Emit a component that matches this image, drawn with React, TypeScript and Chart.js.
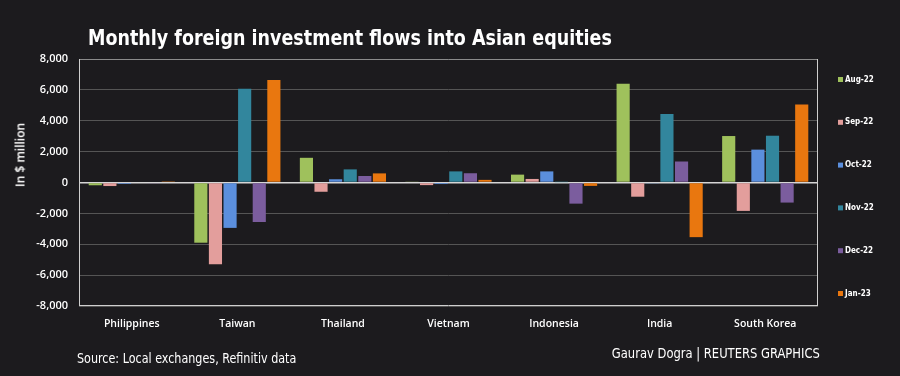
import React, { useEffect, useRef } from "react";
import { Chart, registerables } from "chart.js";

Chart.register(...registerables);

const categories = ["Philippines", "Taiwan", "Thailand", "Vietnam", "Indonesia", "India", "South Korea"];
const seriesLabels = ["Aug-22", "Sep-22", "Oct-22", "Nov-22", "Dec-22", "Jan-23"];
const seriesColors = ["#9fc15c", "#e39e9c", "#5b8fdd", "#32869d", "#7b5d9e", "#e9770f"];
const aug22 = [-180, -3900, 1600, 60, 510, 6400, 3010];
const sep22 = [-230, -5300, -600, -170, 230, -920, -1840];
const oct22 = [-90, -2940, 210, -100, 720, -60, 2130];
const nov22 = [50, 6070, 850, 720, 20, 4440, 3030];
const dec22 = [-40, -2560, 420, 600, -1370, 1360, -1300];
const jan23 = [70, 6640, 590, 170, -220, -3540, 5060];
const yMin = -8000;
const yMax = 8000;
const yStep = 2000;

const titleText = "Monthly foreign investment flows into Asian equities";
const yAxisTitle = "In $ million";
const sourceText = "Source: Local exchanges, Refinitiv data";
const creditText = "Gaurav Dogra | REUTERS GRAPHICS";

const BG = "#1c1b1e";
const NARROW = '"Liberation Sans Narrow", "DejaVu Sans Condensed", "Arial Narrow", sans-serif';
const TICKFONT = '"Open Sans", "Noto Sans", sans-serif';

const framePlugin = {
  id: "frame",
  afterDatasetsDraw(chart: any) {
    const { ctx, chartArea } = chart;
    const { left, right, top, bottom } = chartArea;
    ctx.save();
    ctx.lineWidth = 1;
    ctx.strokeStyle = "#8a8a8a";
    ctx.beginPath();
    ctx.moveTo(left, top + 0.5);
    ctx.lineTo(right, top + 0.5);
    ctx.stroke();
    ctx.strokeStyle = "#cfcfcf";
    ctx.beginPath();
    ctx.moveTo(left + 0.5, top);
    ctx.lineTo(left + 0.5, bottom);
    ctx.moveTo(left, bottom - 0.5);
    ctx.lineTo(right, bottom - 0.5);
    ctx.moveTo(right - 0.5, top);
    ctx.lineTo(right - 0.5, bottom);
    ctx.stroke();
    ctx.restore();
  },
};

const sideLegendPlugin = {
  id: "sideLegend",
  afterDraw(chart: any) {
    const { ctx, chartArea } = chart;
    const x = chartArea.right + 20;
    const y0 = 79.5;
    const step = 42.8;
    ctx.save();
    ctx.font = `bold 8px ${NARROW}`;
    ctx.textBaseline = "middle";
    ctx.textAlign = "left";
    chart.data.datasets.forEach((ds: any, i: number) => {
      const y = y0 + i * step;
      ctx.fillStyle = ds.backgroundColor;
      ctx.fillRect(x, y - 2.5, 5, 5);
      ctx.fillStyle = "#ffffff";
      ctx.fillText(ds.label, x + 7, y);
    });
    ctx.restore();
  },
};

function ChartCanvas() {
  const ref = useRef<HTMLCanvasElement | null>(null);
  useEffect(() => {
    if (!ref.current) return;
    const values = [aug22, sep22, oct22, nov22, dec22, jan23];
    const chart = new Chart(ref.current, {
      type: "bar",
      data: {
        labels: categories,
        datasets: seriesLabels.map((label, i) => ({
          label,
          data: values[i],
          backgroundColor: seriesColors[i],
          borderWidth: 0,
          categoryPercentage: 0.83,
          barPercentage: 0.9,
        })),
      },
      options: {
        responsive: false,
        animation: false,
        devicePixelRatio: 1,
        layout: { padding: { top: 59, left: 0, right: 82, bottom: 40 } },
        plugins: {
          legend: { display: false },
          tooltip: { enabled: false },
          title: { display: false },
        },
        scales: {
          x: {
            grid: { display: false, drawTicks: false },
            border: { display: false },
            ticks: {
              color: "#ffffff",
              padding: 12,
              font: { family: TICKFONT, size: 10.5, weight: "600" },
              maxRotation: 0,
            },
            afterFit: (s: any) => {
              s.height = 30;
            },
          },
          y: {
            min: yMin,
            max: yMax,
            grid: {
              drawTicks: false,
              color: (c: any) => (c.tick && c.tick.value === 0 ? "#d6d6d6" : "#555555"),
              lineWidth: (c: any) => (c.tick && c.tick.value === 0 ? 1.5 : 1),
            },
            border: { display: false },
            ticks: {
              stepSize: yStep,
              color: "#ffffff",
              padding: 11,
              font: { family: TICKFONT, size: 11, weight: "600" },
              callback: (v: any) => Number(v).toLocaleString("en-US"),
            },
            afterFit: (s: any) => {
              s.width = 79;
            },
          },
        },
      },
      plugins: [framePlugin, sideLegendPlugin],
    });
    return () => chart.destroy();
  }, []);
  return (
    <canvas
      ref={ref}
      width={900}
      height={376}
      style={{ position: "absolute", left: 0, top: 0, width: 900, height: 376 }}
    />
  );
}

export default function App() {
  return (
    <div
      style={{
        position: "fixed",
        left: 0,
        top: 0,
        width: 900,
        height: 376,
        background: BG,
        overflow: "hidden",
        color: "#ffffff",
      }}
    >
      <ChartCanvas />
      <div
        style={{
          position: "absolute",
          left: 88,
          top: 25,
          fontFamily: NARROW,
          fontWeight: "bold",
          fontSize: 22,
          lineHeight: "26px",
          whiteSpace: "nowrap",
          transform: "scaleX(0.885)",
          transformOrigin: "left center",
        }}
      >
        {titleText}
      </div>
      <div
        style={{
          position: "absolute",
          left: 20,
          top: 155,
          transform: "translate(-50%, -50%) rotate(-90deg)",
          fontFamily: TICKFONT,
          fontWeight: 600,
          fontSize: 12,
          whiteSpace: "nowrap",
        }}
      >
        {yAxisTitle}
      </div>
      <div
        style={{
          position: "absolute",
          left: 77,
          top: 349,
          fontFamily: NARROW,
          fontSize: 14,
          lineHeight: "18px",
          whiteSpace: "nowrap",
          transform: "scaleX(0.887)",
          transformOrigin: "left center",
        }}
      >
        {sourceText}
      </div>
      <div
        style={{
          position: "absolute",
          right: 80,
          top: 344,
          fontFamily: NARROW,
          fontSize: 14,
          lineHeight: "18px",
          whiteSpace: "nowrap",
          transform: "scaleX(0.917)",
          transformOrigin: "right center",
        }}
      >
        {creditText}
      </div>
    </div>
  );
}
